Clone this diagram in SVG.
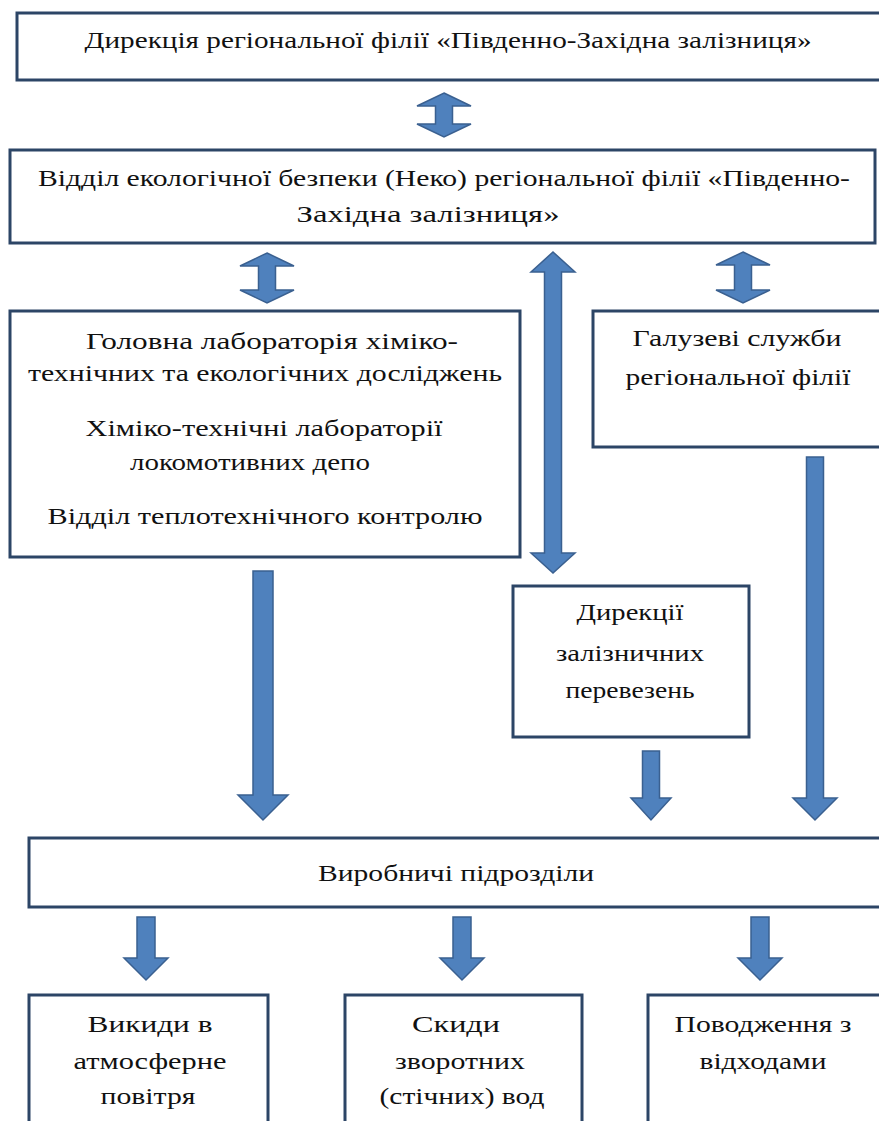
<svg xmlns="http://www.w3.org/2000/svg" width="879" height="1121" viewBox="0 0 879 1121" font-family="'Liberation Serif', 'DejaVu Serif', serif">
<style>
.box{fill:#fff;stroke:#2c4566;stroke-width:3}
.arr{fill:#4f81bd;stroke:#3a6090;stroke-width:1.5;stroke-linejoin:miter}
.t{font-family:'Liberation Serif','DejaVu Serif',serif;font-size:24px;fill:#111;text-anchor:middle}
</style>
<rect width="879" height="1121" fill="#fff"/>
<g id="connectors">
<path class="arr" d="M444,93 L471,106 L452.5,106 L452.5,124 L471,124 L444,137 L417,124 L435.5,124 L435.5,106 L417,106 Z"/>
<path class="arr" d="M267,253 L294,266 L275.5,266 L275.5,290 L294,290 L267,303 L240,290 L258.5,290 L258.5,266 L240,266 Z"/>
<path class="arr" d="M743,252 L770,265 L751.5,265 L751.5,290 L770,290 L743,303 L716,290 L734.5,290 L734.5,265 L716,265 Z"/>
<path class="arr" d="M553,252 L575,272 L561.5,272 L561.5,553 L575,553 L553,573 L531,553 L544.5,553 L544.5,272 L531,272 Z"/>
<path class="arr" d="M253,571 L273,571 L273,795 L288,795 L263,820 L238,795 L253,795 Z"/>
<path class="arr" d="M642.5,751 L659.5,751 L659.5,798 L671,798 L651,820 L631,798 L642.5,798 Z"/>
<path class="arr" d="M806.5,457 L823.5,457 L823.5,798 L837,798 L815,820 L793,798 L806.5,798 Z"/>
<path class="arr" d="M137,917 L155,917 L155,958 L168,958 L146,980 L124,958 L137,958 Z"/>
<path class="arr" d="M453,917 L471,917 L471,958 L484,958 L462,980 L440,958 L453,958 Z"/>
<path class="arr" d="M751,917 L769,917 L769,958 L782,958 L760,980 L738,958 L751,958 Z"/>
</g>
<g id="n1">
<rect class="box" x="17" y="13" width="875" height="67"/>
<text class="t" x="448" y="48" textLength="727" lengthAdjust="spacingAndGlyphs">Дирекція регіональної філії «Південно-Західна залізниця»</text>
</g>
<g id="n2">
<rect class="box" x="10" y="150" width="865" height="93"/>
<text class="t" x="444" y="186" textLength="812" lengthAdjust="spacingAndGlyphs">Відділ екологічної безпеки (Неко) регіональної філії «Південно-</text>
<text class="t" x="428" y="222" textLength="263" lengthAdjust="spacingAndGlyphs">Західна залізниця»</text>
</g>
<g id="n3">
<rect class="box" x="10" y="311" width="510" height="246"/>
<text class="t" x="272" y="349" textLength="372" lengthAdjust="spacingAndGlyphs">Головна лабораторія хіміко-</text>
<text class="t" x="265" y="381" textLength="474" lengthAdjust="spacingAndGlyphs">технічних та екологічних досліджень</text>
<text class="t" x="264" y="436" textLength="357" lengthAdjust="spacingAndGlyphs">Хіміко-технічні лабораторії</text>
<text class="t" x="250" y="470" textLength="240" lengthAdjust="spacingAndGlyphs">локомотивних депо</text>
<text class="t" x="265" y="524" textLength="435" lengthAdjust="spacingAndGlyphs">Відділ теплотехнічного контролю</text>
</g>
<g id="n4">
<rect class="box" x="593" y="311" width="300" height="136"/>
<text class="t" x="737" y="346" textLength="209" lengthAdjust="spacingAndGlyphs">Галузеві служби</text>
<text class="t" x="738" y="385" textLength="225" lengthAdjust="spacingAndGlyphs">регіональної філії</text>
</g>
<g id="n5">
<rect class="box" x="513" y="586" width="236" height="151"/>
<text class="t" x="630" y="620" textLength="107" lengthAdjust="spacingAndGlyphs">Дирекції</text>
<text class="t" x="630" y="661" textLength="148" lengthAdjust="spacingAndGlyphs">залізничних</text>
<text class="t" x="630" y="698" textLength="129" lengthAdjust="spacingAndGlyphs">перевезень</text>
</g>
<g id="n6">
<rect class="box" x="29" y="838" width="865" height="69"/>
<text class="t" x="456" y="881" textLength="276" lengthAdjust="spacingAndGlyphs">Виробничі підрозділи</text>
</g>
<g id="n7">
<rect class="box" x="29" y="995" width="239" height="140"/>
<text class="t" x="150" y="1032" textLength="125" lengthAdjust="spacingAndGlyphs">Викиди в</text>
<text class="t" x="150" y="1069" textLength="153" lengthAdjust="spacingAndGlyphs">атмосферне</text>
<text class="t" x="148" y="1104" textLength="95" lengthAdjust="spacingAndGlyphs">повітря</text>
</g>
<g id="n8">
<rect class="box" x="345" y="995" width="237" height="140"/>
<text class="t" x="456" y="1032" textLength="88" lengthAdjust="spacingAndGlyphs">Скиди</text>
<text class="t" x="460" y="1069" textLength="130" lengthAdjust="spacingAndGlyphs">зворотних</text>
<text class="t" x="462" y="1104" textLength="165" lengthAdjust="spacingAndGlyphs">(стічних) вод</text>
</g>
<g id="n9">
<rect class="box" x="648" y="995" width="245" height="140"/>
<text class="t" x="763" y="1032" textLength="177" lengthAdjust="spacingAndGlyphs">Поводження з</text>
<text class="t" x="763" y="1069" textLength="127" lengthAdjust="spacingAndGlyphs">відходами</text>
</g>
</svg>
